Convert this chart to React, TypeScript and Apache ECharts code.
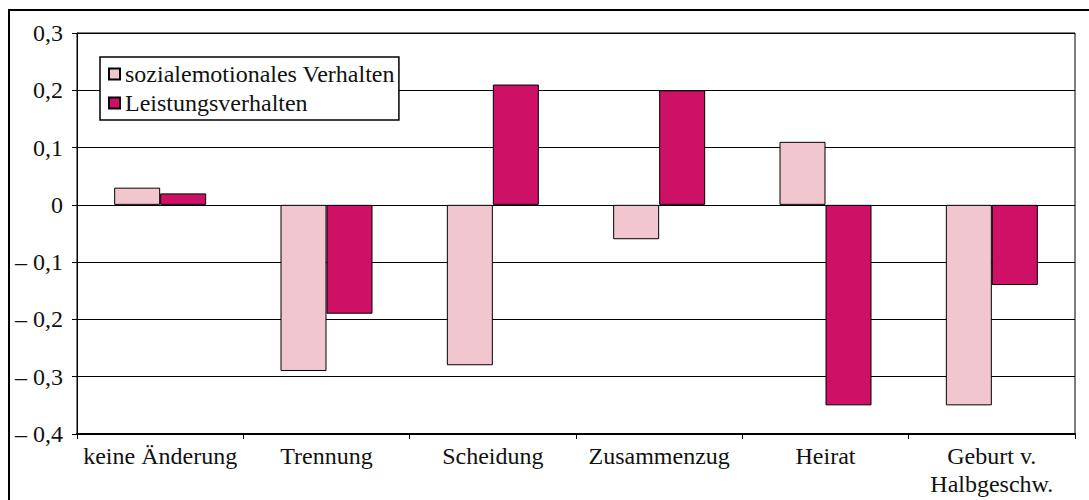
import React, { useEffect, useRef } from "react";
import * as echarts from "echarts";

const categories = ["keine Änderung", "Trennung", "Scheidung", "Zusammenzug", "Heirat", "Geburt v.\nHalbgeschw."];
const sozial = [0.03, -0.29, -0.28, -0.06, 0.11, -0.35];
const leistung = [0.02, -0.19, 0.21, 0.2, -0.35, -0.14];
const seriesNames = ["sozialemotionales Verhalten", "Leistungsverhalten"];

const FONT = "'Liberation Serif', 'Times New Roman', serif";

export default function App() {
  const ref = useRef<HTMLDivElement>(null);
  useEffect(() => {
    if (!ref.current) return;
    const chart = echarts.init(ref.current, undefined, { renderer: "svg" });
    chart.setOption({
      animation: false,
      backgroundColor: "#ffffff",
      grid: { left: 77, top: 33, right: 14, bottom: 66, show: true, borderColor: "#000", borderWidth: 1, backgroundColor: "transparent" },
      legend: {
        orient: "vertical",
        left: 100,
        top: 57,
        itemWidth: 11,
        itemHeight: 11,
        itemGap: 5,
        padding: [5, 4, 5, 8],
        borderColor: "#000",
        borderWidth: 1.5,
        backgroundColor: "#fff",
        textStyle: { fontFamily: FONT, fontSize: 24, color: "#111" },
        data: seriesNames.map((n) => ({ name: n, icon: "rect" })),
      },
      xAxis: {
        type: "category",
        data: categories,
        axisLine: { onZero: false, lineStyle: { color: "#000", width: 2 } },
        axisTick: { show: true, length: 5, lineStyle: { color: "#000" } },
        axisLabel: { fontFamily: FONT, fontSize: 24, color: "#111", margin: 8, lineHeight: 28, interval: 0 },
        splitLine: { show: false },
      },
      yAxis: {
        type: "value",
        min: -0.4,
        max: 0.3,
        interval: 0.1,
        axisLine: { show: true, lineStyle: { color: "#000", width: 1 } },
        axisTick: { show: true, length: 5, lineStyle: { color: "#000" } },
        axisLabel: {
          fontFamily: FONT,
          fontSize: 24,
          color: "#111",
          margin: 14,
          formatter: (v: number) => {
            const r = Math.round(v * 10) / 10;
            if (r === 0) return "0";
            const s = Math.abs(r).toFixed(1).replace(".", ",");
            return r < 0 ? "\u2013 " + s : s;
          },
        },
        splitLine: { show: true, lineStyle: { color: "#000", width: 1 } },
      },
      series: [
        {
          name: seriesNames[0],
          type: "bar",
          data: sozial,
          barWidth: 46,
          barGap: "0%",
          itemStyle: { color: "#F2C6CF", borderColor: "#000", borderWidth: 1 },
        },
        {
          name: seriesNames[1],
          type: "bar",
          data: leistung,
          barWidth: 46,
          barGap: "0%",
          itemStyle: { color: "#CE1166", borderColor: "#000", borderWidth: 1 },
        },
      ],
      graphic: [
        {
          type: "rect",
          shape: { x: 9, y: 10, width: 1200, height: 600 },
          style: { fill: "none", stroke: "#000", lineWidth: 2 },
          silent: true,
        },
      ],
    });
    return () => chart.dispose();
  }, []);
  return <div ref={ref} style={{ position: "absolute", left: 0, top: 0, width: 1089, height: 500 }} />;
}
